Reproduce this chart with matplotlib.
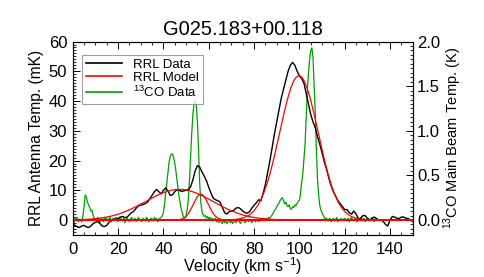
import numpy as np
import matplotlib
matplotlib.use('Agg')
import matplotlib.pyplot as plt
from matplotlib.ticker import MultipleLocator, FormatStrFormatter
from matplotlib.lines import Line2D

plt.rcParams['font.family'] = ['Liberation Sans', 'DejaVu Sans']
plt.rcParams['mathtext.fontset'] = 'custom'
plt.rcParams['mathtext.rm'] = 'Liberation Sans'

title = 'G025.183+00.118'

# RRL spectrum (mK), 1 km/s channels from 0 to 150 km/s
rrl_v = np.arange(0, 151, 1.0)
rrl_t = [-1.2, -1.8, -2.3, -2.5, -2.0, -1.8, -2.3, -2.5, -2.0, -1.2,
         -0.8, -0.5, -1.2, -2.0, -2.2, -1.8, -0.8, 0.0, 0.3, 0.2,
         0.6, 1.0, 1.2, 0.8, 1.0, 1.8, 2.5, 3.0, 4.0, 4.8,
         5.0, 5.2, 5.5, 6.0, 7.2, 8.3, 9.5, 10.3, 9.5, 8.8,
         10.0, 10.8, 9.8, 8.3, 8.5, 9.5, 10.2, 10.0, 9.6, 9.8,
         10.0, 10.3, 11.2, 13.5, 16.5, 18.3, 17.8, 16.2, 14.8, 13.2,
         11.0, 9.0, 7.4, 6.8, 6.5, 6.0, 4.2, 2.5, 2.0, 2.8,
         3.0, 3.2, 4.0, 4.2, 3.8, 3.0, 2.5, 2.3, 2.8, 4.0,
         5.0, 5.8, 6.8, 6.5, 9.0, 12.0, 16.0, 20.0, 24.5, 29.0,
         33.0, 37.0, 41.0, 44.0, 47.0, 50.0, 52.0, 53.0, 52.0, 50.0,
         48.5, 47.5, 46.0, 42.5, 39.0, 35.5, 33.0, 31.0, 28.0, 25.5,
         22.5, 19.5, 17.0, 14.0, 11.5, 9.5, 8.0, 6.5, 5.5, 4.5,
         3.5, 3.5, 2.5, 2.0, 3.0, 2.0, 0.5, 0.5, 1.5, 1.5,
         0.5, 0.0, 0.5, 1.0, 0.5, 0.0, 0.0, -0.5, -1.5, -2.0,
         0.0, 1.2, 1.0, 0.6, 0.5, 1.0, 1.0, 0.6, 0.5, 0.0,
         -0.5]

# RRL Gaussian fit components: amplitude (mK), centre (km/s), FWHM (km/s)
model_amp = [10.3, 8.7, 48.5]
model_cen = [47.0, 56.5, 99.8]
model_fwhm = [34.9, 7.8, 20.0]

# 13CO spectrum (K), 0.5 km/s channels from 0 to 134 km/s
co_v = np.arange(0, 134.5, 0.5)
co_t = [0.00, -0.03, 0.02, -0.01, 0.03, -0.02, 0.01, 0.00, -0.02, 0.05,
        0.15, 0.28, 0.26, 0.20, 0.17, 0.14, 0.10, 0.11, 0.05, 0.02,
        0.01, -0.02, 0.03, 0.00, -0.03, 0.02, 0.01, -0.02, 0.03, 0.00,
        0.02, -0.01, 0.01, 0.03, -0.02, 0.00, 0.02, -0.01, 0.03, 0.01,
        -0.02, 0.01, 0.03, 0.00, -0.01, 0.02, -0.03, 0.01, 0.02, 0.00,
        -0.02, 0.01, 0.03, -0.01, 0.00, 0.02, -0.02, 0.01, 0.03, 0.00,
        0.01, -0.02, 0.02, 0.00, -0.01, 0.03, 0.01, -0.02, 0.00, 0.02,
        0.01, -0.01, 0.03, 0.00, 0.02, -0.02, 0.01, 0.02, 0.03, 0.05,
        0.08, 0.18, 0.30, 0.41, 0.55, 0.65, 0.71, 0.74, 0.74, 0.70,
        0.64, 0.55, 0.44, 0.34, 0.25, 0.17, 0.11, 0.06, 0.03, 0.02,
        0.05, 0.12, 0.23, 0.45, 0.72, 0.97, 1.18, 1.30, 1.34, 1.30,
        1.10, 0.79, 0.42, 0.20, 0.10, 0.06, 0.04, 0.05, 0.02, 0.04,
        0.01, 0.03, 0.00, 0.02, -0.01, 0.01, 0.02, -0.02, 0.00, -0.03,
        0.01, -0.02, -0.04, 0.00, -0.03, -0.01, -0.04, -0.02, 0.00, -0.03,
        -0.01, -0.04, -0.02, 0.00, -0.03, -0.01, 0.01, -0.02, -0.04, 0.00,
        -0.01, 0.01, -0.03, -0.01, 0.00, -0.02, 0.01, -0.01, -0.03, 0.00,
        0.01, -0.02, -0.01, 0.01, -0.02, 0.00, 0.01, -0.01, 0.02, 0.00,
        -0.01, 0.02, 0.01, 0.03, 0.02, 0.04, 0.06, 0.08, 0.11, 0.12,
        0.15, 0.17, 0.19, 0.22, 0.24, 0.25, 0.22, 0.18, 0.20, 0.16,
        0.15, 0.17, 0.13, 0.12, 0.15, 0.14, 0.17, 0.16, 0.19, 0.21,
        0.22, 0.30, 0.42, 0.52, 0.68, 0.85, 1.15, 1.45, 1.65, 1.80,
        1.90, 1.93, 1.82, 1.50, 1.20, 0.78, 0.45, 0.28, 0.16, 0.11,
        0.08, 0.05, 0.03, 0.01, 0.02, -0.01, 0.01, 0.02, -0.02, 0.00,
        0.02, -0.01, 0.01, 0.03, -0.02, 0.01, 0.00, 0.02, -0.01, 0.01,
        0.02, -0.01, 0.00, 0.02, -0.02, 0.01, 0.03, 0.00, -0.01, 0.02,
        0.01, -0.02, 0.02, 0.00, 0.03, -0.01, 0.01, 0.02, -0.02, 0.01,
        0.00, 0.02, -0.01, 0.01, 0.03, 0.00, -0.02, 0.01, 0.00]

green = '#00a000'

fig = plt.figure(figsize=(4.85, 2.77), dpi=100)
ax1 = fig.add_axes([0.150, 0.152, 0.701, 0.698])
ax2 = ax1.twinx()
ax1.set_zorder(ax2.get_zorder() + 1)
ax1.patch.set_visible(False)

ax1.plot(rrl_v, rrl_t, color='black', lw=1.0)
ax2.plot(co_v, co_t, color=green, lw=0.9)

mv = np.linspace(0, 150, 601)
for a, c, w in zip(model_amp, model_cen, model_fwhm):
    s = w / 2.3548
    ax1.plot(mv, a * np.exp(-0.5 * ((mv - c) / s) ** 2), color='red', lw=0.9)
ax1.plot([0, 150], [0, 0], color='red', lw=1.4)

ax1.set_xlim(0, 150)
ax1.set_ylim(-5, 60)
ax2.set_ylim(-5 / 30.0, 2.0)

ax1.xaxis.set_major_locator(MultipleLocator(20))
ax1.xaxis.set_minor_locator(MultipleLocator(5))
ax1.yaxis.set_major_locator(MultipleLocator(10))
ax1.yaxis.set_minor_locator(MultipleLocator(1))
ax2.yaxis.set_major_locator(MultipleLocator(0.5))
ax2.yaxis.set_minor_locator(MultipleLocator(0.05))
ax2.yaxis.set_major_formatter(FormatStrFormatter('%.1f'))

ax1.tick_params(axis='x', which='both', direction='in', top=True, labelsize=12, pad=5)
ax1.tick_params(axis='y', which='both', direction='in', labelsize=12, pad=4)
ax2.tick_params(axis='y', which='both', direction='in', labelsize=12, pad=3)
for ax in (ax1, ax2):
    ax.tick_params(which='major', length=5, width=0.7)
    ax.tick_params(which='minor', length=2.5, width=0.6)
    for sp in ax.spines.values():
        sp.set_linewidth(0.8)

ax1.set_xlabel('Velocity (km s$^{\\mathregular{-1}}$)', fontsize=11.5, labelpad=-1)
ax1.set_ylabel('RRL Antenna Temp. (mK)', fontsize=11.2, labelpad=3)
ax2.set_ylabel('$^{\\mathregular{13}}$CO Main Beam Temp. (K)', fontsize=10.5, labelpad=1)
ax1.set_title(title, fontsize=14.5, pad=5)

handles = [Line2D([], [], color='black', lw=1.2),
           Line2D([], [], color='red', lw=1.2),
           Line2D([], [], color=green, lw=1.2)]
labels = ['RRL Data', 'RRL Model', '$^{\\mathregular{13}}$CO Data']
leg = ax1.legend(handles, labels, loc='upper left', bbox_to_anchor=(0.026, 0.931),
                 fontsize=9.5, frameon=True, fancybox=False, handlelength=2.8,
                 handletextpad=0.8, labelspacing=0.05, borderpad=0.3,
                 borderaxespad=0.0)
leg.get_frame().set_edgecolor('#888888')
leg.get_frame().set_linewidth(0.8)

fig.savefig('out.png', dpi=100)
